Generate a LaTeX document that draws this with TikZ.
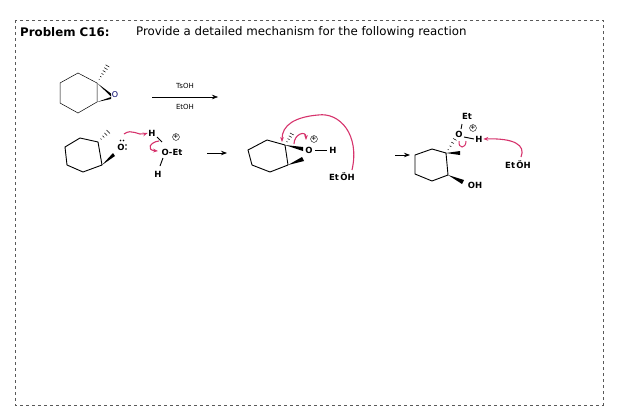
\documentclass[tikz,border=0pt]{standalone}
\usepackage{fontspec}
\setmainfont{DejaVu Sans}
\usetikzlibrary{arrows.meta,calc}
\definecolor{pk}{HTML}{D6336C}
\tikzset{
 bond/.style={line width=0.9pt,line join=round},
 thin/.style={line width=0.5pt},
 pa/.style={draw=pk,line width=1.1pt,-{Stealth[length=5pt]}},
 lab/.style={font=\fontsize{8.5}{9}\selectfont\bfseries,inner sep=0.5pt},
 chg/.style={draw,circle,inner sep=0.2pt,font=\fontsize{6}{6}\selectfont\bfseries},
 rx/.style={line width=0.8pt,-{Stealth[length=6pt]}},
}
\begin{document}
\begin{tikzpicture}[x=1pt,y=-1pt]
\useasboundingbox (0,0) rectangle (617,410);
\draw[dashed,thin,gray!70!black] (15,20) rectangle (603,405);
\node[anchor=west,font=\fontsize{11.8}{13}\selectfont\bfseries,inner sep=0] (pr) at (20,32) {Problem C16:};
\node[anchor=west,font=\fontsize{11.8}{13}\selectfont,inner sep=0] (pv) at (136,32) {Provide a detailed mechanism for the following reaction};
% starting material
\draw[thin] (60,83)--(78,73)--(97,83)--(97,102)--(78,113)--(60,103)--cycle;
\node[font=\fontsize{8}{9}\selectfont,inner sep=0.5pt,text=blue!40!black] (o1) at (115,95) {O};
\fill (97,83)--(111,93.5)--(111,96.5)--cycle;
\fill (97,102)--(111,97)--(111,99)--cycle;
\foreach \t in {0.2,0.35,0.5,0.65,0.8,0.95}{\draw[thin] ($(97,83)!\t!(108,65)+(-\t*2,-\t*1.2)$)--($(97,83)!\t!(108,65)+(\t*2,\t*1.2)$);}
\node[font=\fontsize{7}{8}\selectfont,inner sep=0] (ts) at (185,86) {TsOH};
\node[font=\fontsize{7}{8}\selectfont,inner sep=0] (et) at (185,107) {EtOH};
\coordinate (a1) at (152,97); \coordinate (a2) at (218,97);
\draw[thin,-{Stealth[length=6pt]}] (a1)--(a2);
% row 2 first
\draw[bond] (65,147)--(80,138)--(98,142)--(102,165)--(83,172)--(67,165)--cycle;
\node[lab] (o2) at (121,147) {O};
\fill (120.5,140.5) circle (0.8) (123.5,140.5) circle (0.8);
\fill (126,145) circle (0.8) (126,149) circle (0.8);
\foreach \t in {0.25,0.45,0.65,0.85}{\draw[thin] ($(98,142)!\t!(110,130)+(-\t*2,-\t*2)$)--($(98,142)!\t!(110,130)+(\t*2,\t*2)$);}
\fill (102,165)--(113,153)--(115,156)--cycle;
\node[lab] (h1) at (152,133) {H};
\node[lab] (o3) at (172,152) {O-Et};
\node[lab] (h2) at (158,174) {H};
\node[chg] (p1) at (176,137) {+};
\draw[bond] (157,137)--(162,142);
\draw[bond] (163,158)--(160,166);
\draw[pa] (124,134) .. controls (132,128) and (138,136) .. (h1.west);
\draw[pa] (159,141) .. controls (150,142) and (146,150) .. (158,151);
\draw[rx] (207,153)--(227,153);
% row 2 middle
\draw[bond] (248,150)--(267,140)--(285,145)--(288,165)--(270,172)--(252,165)--cycle;
\fill (285,145)--(303,147)--(303,151)--cycle;
\node[lab] (o4) at (309,150) {O};
\node[lab] (h3) at (333,150) {H};
\draw[bond] (315,150)--(327,150);
\node[chg] (p2) at (314,139) {+};
\foreach \t in {0.25,0.45,0.65,0.85}{\draw[thin] ($(285,145)!\t!(293,132)+(-\t*2.2,-\t*1.2)$)--($(285,145)!\t!(293,132)+(\t*2.2,\t*1.2)$);}
\fill (288,165)--(302,157)--(304,161)--cycle;
\node[lab] (eo) at (342,177) {Et\,ÖH};
\draw[pa] (352,170) .. controls (360,135) and (340,112) .. (318,115) .. controls (295,117) and (282,125) .. (282,142);
\draw[pa] (294,144) .. controls (294,134) and (306,130) .. (306,140);
\draw[rx] (395,155)--(410,155);
% product
\draw[bond] (415,155)--(432,149)--(446,153)--(448,175)--(432,181)--(415,174)--cycle;
\foreach \t in {0.2,0.4,0.6,0.8}{\draw[thin] ($(446,153)!\t!(457,136)+(-\t*2.2,-\t*1.2)$)--($(446,153)!\t!(457,136)+(\t*2.2,\t*1.2)$);}
\fill (446,153)--(460,151)--(460,155)--cycle;
\fill (448,175)--(464,180)--(462,184)--cycle;
\node[lab] (oh) at (475,185) {OH};
\node[lab] (o5) at (459,134) {O};
\node[lab] (et2) at (467,116) {Et};
\draw[bond] (462,124)--(461,129);
\node[lab] (h4) at (479,139) {H};
\draw[bond] (464,137)--(474,139);
\node[chg] (p3) at (473,128) {+};
\draw[draw=pk,line width=1pt] (459,141) .. controls (458,149) and (466,149) .. (466,141);
\node[lab] (eo2) at (518,165) {Et\,ÖH};
\draw[pa] (521,157) .. controls (526,145) and (514,138) .. (h4.east);
\end{tikzpicture}
\end{document}
